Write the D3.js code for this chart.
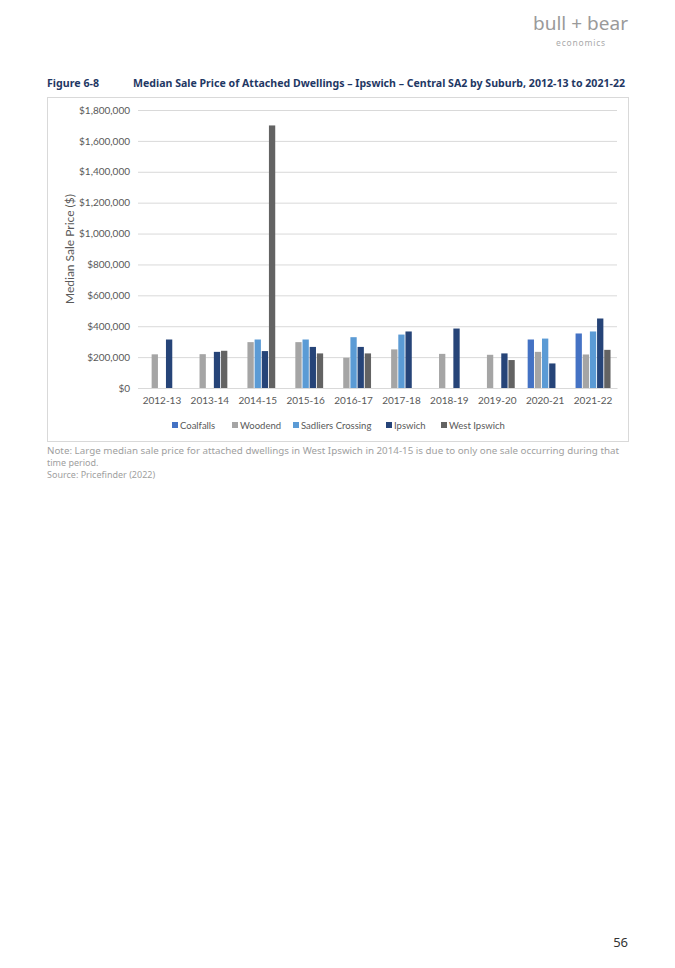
<!DOCTYPE html>
<html><head><meta charset="utf-8">
<script src="https://cdn.jsdelivr.net/npm/d3@7"></script>
<style>body{margin:0;background:#fff}svg{display:block}</style>
</head><body>
<script>
const categories = ["2012-13","2013-14","2014-15","2015-16","2016-17","2017-18","2018-19","2019-20","2020-21","2021-22"];
const seriesNames = ["Coalfalls","Woodend","Sadliers Crossing","Ipswich","West Ipswich"];
const coalfalls = [null,null,null,null,null,null,null,null,314000,353000];
const woodend = [218000,219000,297000,297000,196000,250000,221000,215000,234000,217000];
const sadliers = [null,null,314000,314000,329000,346000,null,null,320000,366000];
const ipswich = [314000,234000,239000,266000,266000,366000,385000,224000,159000,450000];
const westIpswich = [null,241000,1700000,224000,224000,null,null,181000,null,247000];
const yTicks = [0,200000,400000,600000,800000,1000000,1200000,1400000,1600000,1800000];
const colors = ["#4472C4","#A5A5A5","#5B9BD5","#264478","#636363"];
const seriesValues = [coalfalls, woodend, sadliers, ipswich, westIpswich];

const W=675,H=968;
const svg=d3.select("body").append("svg").attr("width",W).attr("height",H);
const font="Lato, 'Open Sans', sans-serif";

// Logo
svg.append("text").attr("x",628).attr("y",30).attr("text-anchor","end")
  .attr("font-family","'Noto Sans', sans-serif").attr("font-size",18).attr("fill","#9a9a9a")
  .attr("textLength",95).attr("lengthAdjust","spacingAndGlyphs").text("bull + bear");
svg.append("text").attr("x",581).attr("y",46).attr("text-anchor","middle")
  .attr("font-family","'Noto Sans', sans-serif").attr("font-size",8.5).attr("fill","#aaaaaa")
  .attr("letter-spacing",0.8).text("economics");

// Title
svg.append("text").attr("x",47).attr("y",87).attr("font-family","'Noto Sans', sans-serif")
  .attr("font-size",10.5).attr("font-weight","bold").attr("fill","#1F3864")
  .attr("textLength",52).attr("lengthAdjust","spacingAndGlyphs").text("Figure 6-8");
svg.append("text").attr("x",133).attr("y",87).attr("font-family","'Noto Sans', sans-serif")
  .attr("font-size",10.5).attr("font-weight","bold").attr("fill","#1F3864")
  .attr("textLength",492).attr("lengthAdjust","spacingAndGlyphs")
  .text("Median Sale Price of Attached Dwellings – Ipswich – Central SA2 by Suburb, 2012-13 to 2021-22");

// Chart frame
svg.append("rect").attr("x",47.5).attr("y",97.5).attr("width",581).attr("height",344)
  .attr("fill","#fff").attr("stroke","#d9d9d9");

const x0=d3.scaleBand().domain(categories).range([138,617]).paddingInner(0.27).paddingOuter(0.135);
const x1=d3.scaleBand().domain(seriesNames).range([0,x0.bandwidth()]).paddingInner(0.12);
const y=d3.scaleLinear().domain([0,1800000]).range([388,110]);

const yAxis=svg.append("g").attr("transform","translate(138,0)")
  .call(d3.axisLeft(y).tickValues(yTicks).tickSize(-479).tickFormat(d=>"$"+d3.format(",")(d)));
yAxis.select(".domain").remove();
yAxis.selectAll(".tick line").attr("stroke","#d9d9d9");
yAxis.selectAll(".tick text").attr("x",-8).attr("font-family",font).attr("font-size",10).attr("fill","#595959");

svg.append("text").attr("transform","translate(74,249) rotate(-90)").attr("text-anchor","middle")
  .attr("font-family",font).attr("font-size",12).attr("fill","#595959").text("Median Sale Price ($)");

const groups=svg.append("g").selectAll("g").data(categories).join("g")
  .attr("transform",d=>`translate(${x0(d)},0)`);
groups.selectAll("rect").data((c,i)=>seriesNames.map((s,j)=>({s,v:seriesValues[j][i],c:colors[j]})).filter(d=>d.v!=null))
  .join("rect").attr("x",d=>x1(d.s)).attr("width",x1.bandwidth())
  .attr("y",d=>y(d.v)).attr("height",d=>y(0)-y(d.v)).attr("fill",d=>d.c);

const xAxis=svg.append("g").attr("transform","translate(0,388)").call(d3.axisBottom(x0).tickSize(0));
xAxis.select(".domain").attr("stroke","#d9d9d9");
xAxis.selectAll(".tick text").attr("dy",0).attr("y",16).attr("font-family",font).attr("font-size",10).attr("fill","#595959");

// Legend
const legX=[172,232,293,386,441];
const leg=svg.append("g").selectAll("g").data(seriesNames).join("g")
  .attr("transform",(d,i)=>`translate(${legX[i]},429)`);
leg.append("rect").attr("x",0).attr("y",-7).attr("width",6).attr("height",6).attr("fill",(d,i)=>colors[i]);
leg.append("text").attr("x",8).attr("y",0).attr("font-family",font).attr("font-size",9.5).attr("fill","#595959").text(d=>d);

// Notes
const noteFont="'Noto Sans', sans-serif";
svg.append("text").attr("x",47).attr("y",454).attr("font-family",noteFont).attr("font-size",9).attr("fill","#a0a0a0")
  .attr("textLength",572).attr("lengthAdjust","spacingAndGlyphs")
  .text("Note: Large median sale price for attached dwellings in West Ipswich in 2014-15 is due to only one sale occurring during that");
svg.append("text").attr("x",47).attr("y",466).attr("font-family",noteFont).attr("font-size",9).attr("fill","#a0a0a0").text("time period.");
svg.append("text").attr("x",47).attr("y",478).attr("font-family",noteFont).attr("font-size",9).attr("fill","#a0a0a0").text("Source: Pricefinder (2022)");

svg.append("text").attr("x",628).attr("y",947).attr("text-anchor","end").attr("font-family","'Noto Sans', sans-serif")
  .attr("font-size",13).attr("fill","#333").text("56");
</script>
</body></html>
